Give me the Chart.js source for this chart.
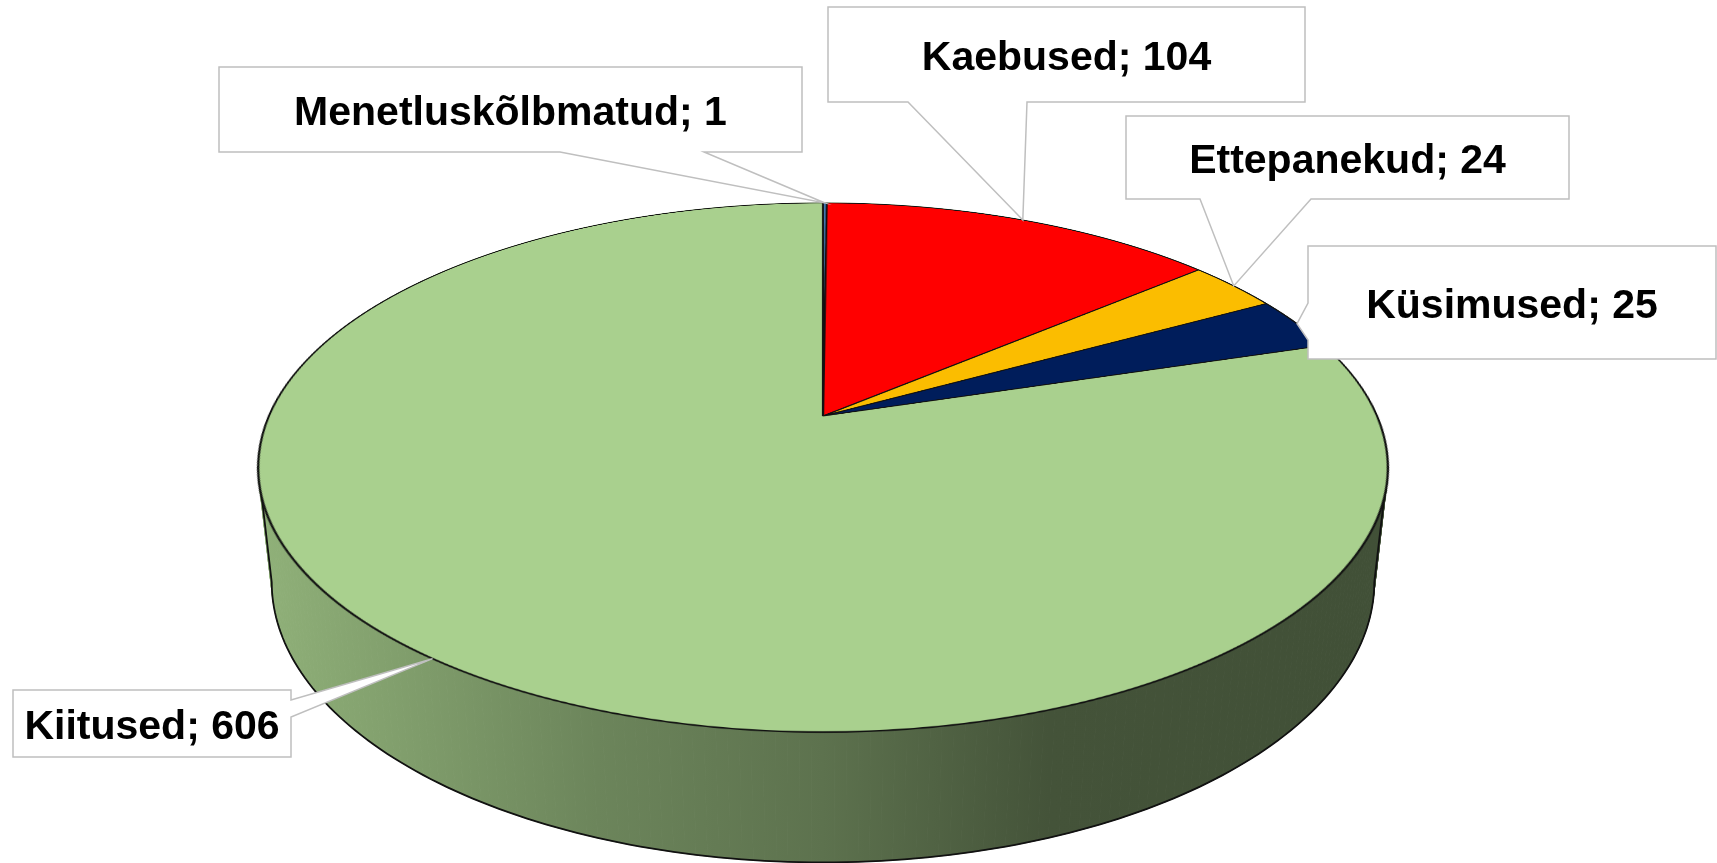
<!DOCTYPE html>
<html>
<head>
<meta charset="utf-8">
<script src="https://cdn.jsdelivr.net/npm/chart.js@4"></script>
<style>
html, body { margin: 0; padding: 0; background: #fff; overflow: hidden; width: 1717px; height: 863px; }
#side, #callouts { position: absolute; left: 0; top: 0; }
#side { z-index: 0; }
#pieBox {
    position: absolute; left: 263px; top: -144px; width: 1120px; height: 1120px; z-index: 1;
    transform-origin: 50% 50%;
    transform: perspective(2527px) rotateX(62.65deg);
}
#callouts { z-index: 2; }
.lbl {
    position: absolute; z-index: 3; display: flex; align-items: center; justify-content: center;
    font: bold 41px "Liberation Sans", Arial, sans-serif; color: #000; line-height: 1; white-space: nowrap;
}
</style>
</head>
<body>
<canvas id="side" width="1717" height="863"></canvas>
<div id="pieBox"><canvas id="pie" width="1120" height="1120"></canvas></div>
<canvas id="callouts" width="1717" height="863"></canvas>
<script>
// data
const categories = ["Menetluskõlbmatud", "Kaebused", "Ettepanekud", "Küsimused", "Kiitused"]
const counts = [1, 104, 24, 25, 606]
const sliceColors = ["#4a86c8", "#ff0000", "#fbbd00", "#001d5b", "#a9d08e"]

// 3d look (same numbers as the css transform on #pieBox)
const tilt = 62.65 * Math.PI / 180
const persp = 2527
const depth = 130
const centre = { x: 823, y: 416 }

// label boxes: box corners, which edge the pointer leaves from, pointer base
const boxes = [
    { x0: 219, y0: 67, x1: 802, y1: 152, edge: "bottom", b0: 560, b1: 704 },
    { x0: 828, y0: 7, x1: 1305, y1: 102, edge: "bottom", b0: 908, b1: 1027 },
    { x0: 1126, y0: 116, x1: 1569, y1: 199, edge: "bottom", b0: 1200, b1: 1311 },
    { x0: 1308, y0: 246, x1: 1716, y1: 359, edge: "left", b0: 303, b1: 340 },
    { x0: 13, y0: 690, x1: 291, y1: 757, edge: "right", b0: 700, b1: 717 },
]

const chart = new Chart(document.getElementById("pie"), {
    type: "pie",
    data: {
        labels: categories,
        datasets: [{
            data: counts,
            backgroundColor: sliceColors,
            borderColor: "#111",
            borderWidth: 2.2,
        }]
    },
    options: {
        responsive: false,
        animation: false,
        devicePixelRatio: 2,
        radius: 554,
        events: [],
        layout: { padding: 0 },
        plugins: {
            legend: { display: false },
            tooltip: { enabled: false }
        }
    }
})

const arcs = chart.getDatasetMeta(0).data
const R = arcs[0].outerRadius

// same projection the browser applies to the pie canvas
function project(u, v, z) {
    const c = Math.cos(tilt), s = Math.sin(tilt)
    const y1 = v * c - z * s
    const z1 = v * s + z * c
    const k = persp / (persp - z1)
    return { x: centre.x + u * k, y: centre.y + y1 * k }
}

function rimPoint(a, z) {
    return project(R * Math.cos(a), R * Math.sin(a), z)
}

function shade(hex, f) {
    const n = parseInt(hex.slice(1), 16)
    const r = Math.round(((n >> 16) & 255) * f)
    const g = Math.round(((n >> 8) & 255) * f)
    const b = Math.round((n & 255) * f)
    return `rgb(${r},${g},${b})`
}

function drawSide() {
    const ctx = document.getElementById("side").getContext("2d")
    // colour of the slice that faces the viewer
    let front = arcs[arcs.length - 1]
    arcs.forEach(arc => {
        if (arc.startAngle <= Math.PI / 2 && arc.endAngle > Math.PI / 2) front = arc
    })
    const base = front.options.backgroundColor

    const top = [], bottom = []
    for (let i = 0; i <= 360; i++) {
        const a = i * Math.PI / 180
        top.push(rimPoint(a, 0))
        bottom.push(rimPoint(a, -depth))
    }
    let minX = 0, maxX = 0
    top.forEach((p, i) => {
        if (p.x < top[minX].x) minX = i
        if (p.x > top[maxX].x) maxX = i
    })
    const grad = ctx.createLinearGradient(top[minX].x, 0, top[maxX].x, 0)
    grad.addColorStop(0, shade(base, 0.85))
    grad.addColorStop(0.30, shade(base, 0.64))
    grad.addColorStop(0.50, shade(base, 0.55))
    grad.addColorStop(0.70, shade(base, 0.40))
    grad.addColorStop(1, shade(base, 0.385))
    ctx.fillStyle = grad
    ctx.strokeStyle = grad
    ctx.lineWidth = 1
    for (let i = 0; i < 360; i++) {
        ctx.beginPath()
        ctx.moveTo(top[i].x, top[i].y)
        ctx.lineTo(top[i + 1].x, top[i + 1].y)
        ctx.lineTo(bottom[i + 1].x, bottom[i + 1].y)
        ctx.lineTo(bottom[i].x, bottom[i].y)
        ctx.closePath()
        ctx.fill()
        ctx.stroke()
    }

    // outline: bottom rim in front and the two side edges
    let bMin = 0, bMax = 0
    bottom.forEach((p, i) => {
        if (p.x < bottom[bMin].x) bMin = i
        if (p.x > bottom[bMax].x) bMax = i
    })
    ctx.strokeStyle = "#111"
    ctx.lineWidth = 1.8
    ctx.beginPath()
    ctx.moveTo(top[minX].x, top[minX].y)
    ctx.lineTo(bottom[bMin].x, bottom[bMin].y)
    let end = bMax > bMin ? bMax - 360 : bMax
    for (let i = bMin; i >= end; i--) {
        const p = bottom[(i + 360) % 360]
        ctx.lineTo(p.x, p.y)
    }
    ctx.lineTo(top[maxX].x, top[maxX].y)
    ctx.stroke()
}

function drawCallouts() {
    const ctx = document.getElementById("callouts").getContext("2d")
    ctx.lineWidth = 1.5
    ctx.strokeStyle = "#bfbfbf"
    ctx.fillStyle = "#fff"
    ctx.lineJoin = "miter"
    arcs.forEach((arc, i) => {
        const b = boxes[i]
        const tip = rimPoint((arc.startAngle + arc.endAngle) / 2, 0)
        ctx.beginPath()
        if (b.edge == "bottom") {
            ctx.moveTo(b.x0, b.y0)
            ctx.lineTo(b.x1, b.y0)
            ctx.lineTo(b.x1, b.y1)
            ctx.lineTo(b.b1, b.y1)
            ctx.lineTo(tip.x, tip.y)
            ctx.lineTo(b.b0, b.y1)
            ctx.lineTo(b.x0, b.y1)
        } else if (b.edge == "right") {
            ctx.moveTo(b.x0, b.y0)
            ctx.lineTo(b.x1, b.y0)
            ctx.lineTo(b.x1, b.b0)
            ctx.lineTo(tip.x, tip.y)
            ctx.lineTo(b.x1, b.b1)
            ctx.lineTo(b.x1, b.y1)
            ctx.lineTo(b.x0, b.y1)
        } else {
            ctx.moveTo(b.x0, b.y0)
            ctx.lineTo(b.x1, b.y0)
            ctx.lineTo(b.x1, b.y1)
            ctx.lineTo(b.x0, b.y1)
            ctx.lineTo(b.x0, b.b1)
            ctx.lineTo(tip.x, tip.y)
            ctx.lineTo(b.x0, b.b0)
        }
        ctx.closePath()
        ctx.fill()
        ctx.stroke()

        const div = document.createElement("div")
        div.className = "lbl"
        div.style.left = b.x0 + "px"
        div.style.top = (b.y0 + 2) + "px"
        div.style.width = (b.x1 - b.x0) + "px"
        div.style.height = (b.y1 - b.y0) + "px"
        div.textContent = categories[i] + "; " + counts[i]
        document.body.appendChild(div)
    })
}

drawSide()
drawCallouts()
</script>
</body>
</html>
